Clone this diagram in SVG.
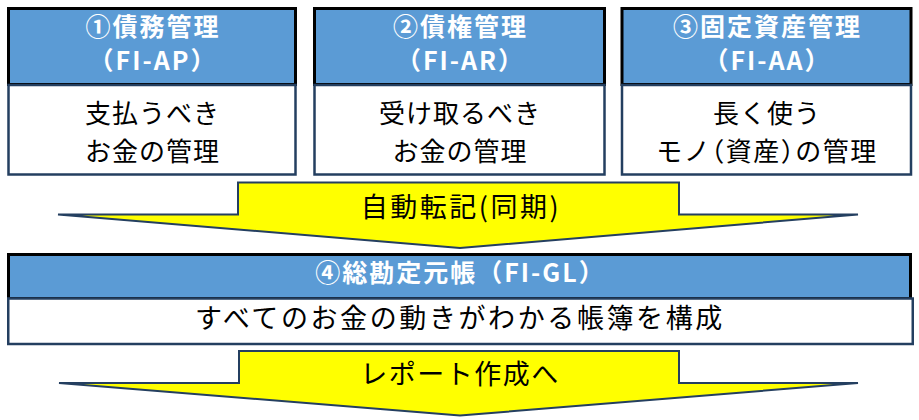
<svg xmlns="http://www.w3.org/2000/svg" width="919" height="420" viewBox="0 0 919 420">
<style>
.hd{fill:#5B9BD5;stroke:#000;stroke-width:3}
.bd{fill:#fff;stroke:#243F60;stroke-width:2.5}
.ar{fill:#FFFF00;stroke:#243F60;stroke-width:2;stroke-linejoin:miter}
text{font-family:"Noto Sans CJK JP","Noto Sans",sans-serif;text-anchor:middle}
.ht{fill:#fff;font-weight:bold;font-size:25px;letter-spacing:2px}
.bt{fill:#000;font-size:26px;letter-spacing:1px}
.at{fill:#000;font-size:27px;letter-spacing:2.5px}
.gt{fill:#000;font-size:27px;letter-spacing:2.6px}
.halt{font-feature-settings:"halt";letter-spacing:1.5px}
</style>
<rect width="919" height="420" fill="#fff"/>
<g id="connectors">
<polygon class="ar" points="238,182.5 679,182.5 679,214.5 858,214.5 460,248 58,214.5 238,214.5"/>
<polygon class="ar" points="239,351 679,351 679,383 858,383 460,415.5 59,383 239,383"/>
<text class="at" x="461" y="217">自動転記(同期)</text>
<text class="at" x="460" y="384" style="letter-spacing:1.5px">レポート作成へ</text>
</g>
<g id="node-ap">
<rect class="hd" x="8.5" y="8.5" width="287" height="76"/>
<rect class="bd" x="8.5" y="85" width="287" height="89.5"/>
<text class="ht" x="153" y="36">①債務管理<tspan x="153" y="70">（FI-AP）</tspan></text>
<text class="bt" x="152.5" y="122.5">支払うべき</text>
<text class="bt" x="152.5" y="160.5">お金の管理</text>
</g>
<g id="node-ar">
<rect class="hd" x="314.5" y="8.5" width="290" height="76"/>
<rect class="bd" x="314.5" y="85" width="290" height="89.5"/>
<text class="ht" x="460.5" y="36">②債権管理<tspan x="460.5" y="70">（FI-AR）</tspan></text>
<text class="bt" x="460" y="122.5">受け取るべき</text>
<text class="bt" x="460" y="160.5">お金の管理</text>
</g>
<g id="node-aa">
<rect class="hd" x="622" y="8.5" width="289" height="76"/>
<rect class="bd" x="622" y="85" width="289" height="89.5"/>
<text class="ht" x="767.5" y="36">③固定資産管理<tspan x="767.5" y="70">（FI-AA）</tspan></text>
<text class="bt" x="767" y="122.5">長く使う</text>
<text class="bt halt" x="767" y="160.5">モノ（資産）の管理</text>
</g>
<g id="node-gl">
<rect class="hd" x="8.5" y="254.5" width="902" height="44"/>
<rect class="bd" x="8.25" y="298.5" width="904.5" height="45.5"/>
<text class="ht" x="460.5" y="282">④総勘定元帳（FI-GL）</text>
<text class="gt" x="460" y="328">すべてのお金の動きがわかる帳簿を構成</text>
</g>
</svg>
